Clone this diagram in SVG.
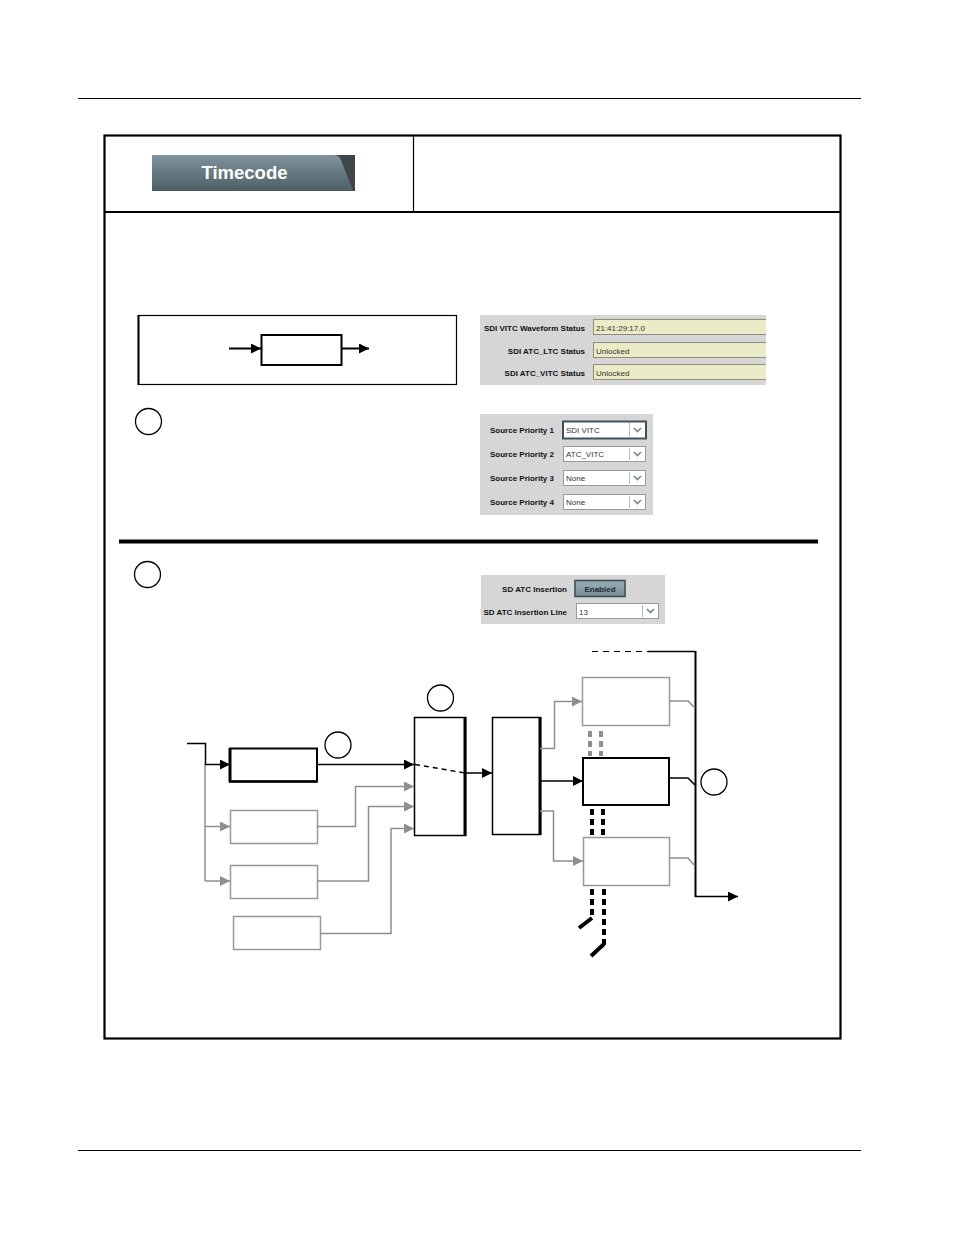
<svg xmlns="http://www.w3.org/2000/svg" width="954" height="1235" viewBox="0 0 954 1235">
<style>
.lbl{font-family:"Liberation Sans",Arial,sans-serif;font-size:8px;font-weight:bold;fill:#111;text-anchor:end}
.val{font-family:"Liberation Sans",Arial,sans-serif;font-size:8px;fill:#333}
.fld{fill:#ecebc7;stroke:#8d8d80;stroke-width:1}
.dd{fill:#ffffff;stroke:#9a9a9a;stroke-width:1}
.panel{fill:#d6d6d6}
.blk{fill:none;stroke:#000;stroke-width:1.5}
.gry{fill:none;stroke:#8e8e8e;stroke-width:1.5}
.gbox{fill:#fff;stroke:#999;stroke-width:1.5}
.bbox{fill:#fff;stroke:#000;stroke-width:2}
.circ{fill:#fff;stroke:#000;stroke-width:1.3}
</style>
<defs>
<marker id="ab" viewBox="0 0 10 10" refX="10" refY="5" markerWidth="10" markerHeight="10" markerUnits="userSpaceOnUse" orient="auto"><path d="M0,0 L10,5 L0,10 Z" fill="#000"/></marker>
<marker id="ag" viewBox="0 0 10 10" refX="10" refY="5" markerWidth="10" markerHeight="10" markerUnits="userSpaceOnUse" orient="auto"><path d="M0,0 L10,5 L0,10 Z" fill="#8e8e8e"/></marker>
<linearGradient id="tab" x1="0" y1="0" x2="0" y2="1"><stop offset="0" stop-color="#7f939a"/><stop offset="1" stop-color="#4d5f66"/></linearGradient>
<linearGradient id="btn" x1="0" y1="0" x2="0" y2="1"><stop offset="0" stop-color="#9aaeb6"/><stop offset="1" stop-color="#7a8f98"/></linearGradient>
<clipPath id="stclip"><rect x="480" y="315" width="286" height="70"/></clipPath>
</defs>
<rect width="954" height="1235" fill="#fff"/>
<line x1="78" y1="98.5" x2="861" y2="98.5" stroke="#000" stroke-width="1.2"/>
<line x1="78" y1="1150.5" x2="861" y2="1150.5" stroke="#000" stroke-width="1.2"/>
<g id="frame">
<rect x="104.5" y="135.5" width="736" height="903" fill="none" stroke="#000" stroke-width="2.2"/>
<line x1="104" y1="212" x2="841" y2="212" stroke="#000" stroke-width="2.2"/>
<line x1="413.5" y1="135" x2="413.5" y2="212" stroke="#000" stroke-width="1.2"/>
<line x1="119" y1="541.5" x2="818" y2="541.5" stroke="#000" stroke-width="4"/>
</g>
<g id="timecode-tab">
<rect x="152" y="155" width="203" height="36" fill="#3e4649"/>
<path d="M152,155 L334,155 Q339,155 341,160 L353,191 L152,191 Z" fill="url(#tab)"/>
<text x="244.5" y="179" font-family="Liberation Sans Narrow,Liberation Sans,Arial,sans-serif" font-size="19" font-weight="bold" fill="#fff" text-anchor="middle" textLength="86" lengthAdjust="spacingAndGlyphs">Timecode</text>
</g>
<g id="status-panel">
<rect class="panel" x="480" y="315" width="286" height="70"/>
<g clip-path="url(#stclip)">
<rect class="fld" x="593.5" y="319.5" width="180" height="15"/>
<rect class="fld" x="593.5" y="342.5" width="180" height="15"/>
<rect class="fld" x="593.5" y="364.5" width="180" height="15"/>
</g>
<text class="lbl" x="585" y="331">SDI VITC Waveform Status</text>
<text class="lbl" x="585" y="354">SDI ATC_LTC Status</text>
<text class="lbl" x="585" y="376">SDI ATC_VITC Status</text>
<text class="val" x="596" y="331">21:41:29:17.0</text>
<text class="val" x="596" y="354">Unlocked</text>
<text class="val" x="596" y="376">Unlocked</text>
</g>
<g id="priority-panel">
<rect class="panel" x="480" y="414" width="173" height="101"/>
<rect x="563" y="421.5" width="83" height="17" fill="#fff" stroke="#3f5158" stroke-width="2"/>
<rect class="dd" x="563.5" y="446.5" width="82" height="15"/>
<rect class="dd" x="563.5" y="470.5" width="82" height="15"/>
<rect class="dd" x="563.5" y="494.5" width="82" height="15"/>
<g stroke="#bbb" stroke-width="1"><line x1="629.5" y1="423" x2="629.5" y2="437"/><line x1="629.5" y1="448" x2="629.5" y2="460"/><line x1="629.5" y1="472" x2="629.5" y2="484"/><line x1="629.5" y1="496" x2="629.5" y2="508"/></g>
<g fill="none" stroke="#6f8a96" stroke-width="1.6"><path d="M634,428 l3.5,3.5 l3.5,-3.5"/><path d="M634,452 l3.5,3.5 l3.5,-3.5"/><path d="M634,476 l3.5,3.5 l3.5,-3.5"/><path d="M634,500 l3.5,3.5 l3.5,-3.5"/></g>
<text class="lbl" x="554" y="433">Source Priority 1</text>
<text class="lbl" x="554" y="457">Source Priority 2</text>
<text class="lbl" x="554" y="481">Source Priority 3</text>
<text class="lbl" x="554" y="505">Source Priority 4</text>
<text class="val" x="566" y="433" fill="#111">SDI VITC</text>
<text class="val" x="566" y="457">ATC_VITC</text>
<text class="val" x="566" y="481">None</text>
<text class="val" x="566" y="505">None</text>
</g>
<g id="sdatc-panel">
<rect class="panel" x="481" y="575" width="184" height="49"/>
<rect x="575" y="580.5" width="50" height="16" fill="url(#btn)" stroke="#3f4f56" stroke-width="1.6"/>
<text x="600" y="592" font-family="Liberation Sans,Arial,sans-serif" font-size="8" font-weight="bold" fill="#1d2a30" text-anchor="middle">Enabled</text>
<rect class="dd" x="576.5" y="603.5" width="82" height="15"/>
<line x1="642.5" y1="605" x2="642.5" y2="617" stroke="#bbb"/>
<path d="M647,609 l3.5,3.5 l3.5,-3.5" fill="none" stroke="#6f8a96" stroke-width="1.6"/>
<text class="lbl" x="567" y="592">SD ATC Insertion</text>
<text class="lbl" x="567" y="615">SD ATC Insertion Line</text>
<text class="val" x="579" y="615">13</text>
</g>
<g id="small-diagram">
<rect x="138.5" y="315.5" width="318" height="69" fill="#fff" stroke="#000" stroke-width="1.2"/>
<line x1="138.5" y1="315" x2="138.5" y2="385" stroke="#000" stroke-width="2"/>
<rect x="261.5" y="335" width="80" height="30" fill="#fff" stroke="#000" stroke-width="2"/>
<line x1="229" y1="348.5" x2="261" y2="348.5" stroke="#000" stroke-width="2" marker-end="url(#ab)"/>
<line x1="341" y1="348.5" x2="369" y2="348.5" stroke="#000" stroke-width="2" marker-end="url(#ab)"/>
</g>
<g id="callouts">
<circle class="circ" cx="148.5" cy="421.5" r="13"/>
<circle class="circ" cx="147.5" cy="574.5" r="13"/>
<circle class="circ" cx="338" cy="745" r="13"/>
<circle class="circ" cx="440.5" cy="698" r="13"/>
<circle class="circ" cx="714" cy="782" r="13"/>
</g>
<g id="node-b1"><rect x="230" y="748.5" width="87" height="33" fill="#fff" stroke="#000" stroke-width="2"/><line x1="230" y1="748" x2="230" y2="782" stroke="#000" stroke-width="3"/><line x1="229" y1="781.5" x2="317" y2="781.5" stroke="#000" stroke-width="2.5"/></g>
<g id="node-b2"><rect class="gbox" x="230.5" y="810.5" width="87" height="33"/></g>
<g id="node-b3"><rect class="gbox" x="230.5" y="865.5" width="87" height="33"/></g>
<g id="node-b4"><rect class="gbox" x="233.5" y="916.5" width="87" height="33"/></g>
<g id="node-switch"><rect x="414.5" y="717.5" width="51" height="118" fill="#fff" stroke="#000" stroke-width="1.5"/><line x1="465" y1="717" x2="465" y2="836" stroke="#000" stroke-width="3"/></g>
<g id="node-mux"><rect x="492.5" y="717.5" width="48" height="117" fill="#fff" stroke="#000" stroke-width="1.5"/><line x1="540" y1="717" x2="540" y2="835" stroke="#000" stroke-width="3"/></g>
<g id="node-o1"><rect class="gbox" x="582.5" y="677.5" width="87" height="48"/></g>
<g id="node-o2"><rect class="bbox" x="583" y="758" width="86" height="47"/></g>
<g id="node-o3"><rect class="gbox" x="583.5" y="837.5" width="86" height="48"/></g>
<g id="connectors">
<path class="gry" d="M205,764 V881"/>
<line class="gry" x1="205" y1="826.5" x2="230" y2="826.5" marker-end="url(#ag)"/>
<line class="gry" x1="205" y1="881" x2="230" y2="881" marker-end="url(#ag)"/>
<path class="blk" d="M187,743.5 H205.5 V764.5 H230" marker-end="url(#ab)" stroke-width="2"/>
<line class="blk" x1="317" y1="764.5" x2="414" y2="764.5" marker-end="url(#ab)"/>
<path class="gry" d="M317,826.5 H355.5 V786.5 H414" marker-end="url(#ag)"/>
<path class="gry" d="M317,881 H368.5 V806.5 H414" marker-end="url(#ag)"/>
<path class="gry" d="M320,933.5 H391 V828.5 H414" marker-end="url(#ag)"/>
<line x1="415" y1="764.5" x2="465" y2="773" stroke="#000" stroke-width="1.5" stroke-dasharray="5,4"/>
<line class="blk" x1="465" y1="773" x2="492" y2="773" marker-end="url(#ab)"/>
<path class="gry" d="M540,748.5 H554.5 V701.5 H582" marker-end="url(#ag)"/>
<line class="blk" x1="540" y1="781" x2="583" y2="781" marker-end="url(#ab)"/>
<path class="gry" d="M540,811 H553.5 V861 H583" marker-end="url(#ag)"/>
<g stroke="#8e8e8e" stroke-width="4" stroke-dasharray="6,4"><line x1="590" y1="731" x2="590" y2="756"/><line x1="601" y1="731" x2="601" y2="756"/></g>
<g stroke="#000" stroke-width="4" stroke-dasharray="6,4"><line x1="592" y1="809" x2="592" y2="835"/><line x1="603" y1="809" x2="603" y2="835"/></g>
<g fill="none" stroke="#000" stroke-width="4"><path d="M592,889 V918" stroke-dasharray="6,4"/><path d="M604,889 V945" stroke-dasharray="6,4"/><path d="M592,918 L579,928"/><path d="M604,944 L591,956"/></g>
<line x1="592" y1="651.5" x2="648" y2="651.5" stroke="#000" stroke-width="1.2" stroke-dasharray="6,5"/>
<path d="M648,651.5 H695" fill="none" stroke="#000" stroke-width="1.3"/>
<line x1="695.5" y1="651" x2="695.5" y2="897" stroke="#000" stroke-width="2"/>
<line class="blk" x1="695" y1="896.5" x2="738" y2="896.5" marker-end="url(#ab)"/>
<path class="gry" d="M669,701 H688 L695,708"/>
<path class="blk" d="M669,778 H688 L695,785"/>
<path class="gry" d="M669,858 H688 L695,866"/>
</g>
</svg>
